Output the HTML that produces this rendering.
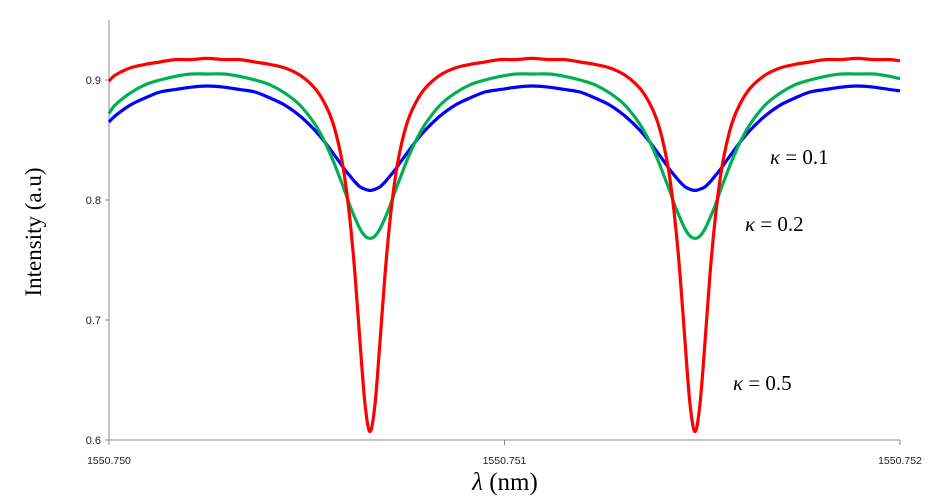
<!DOCTYPE html>
<html><head><meta charset="utf-8"><style>
html,body{margin:0;padding:0;background:#fff;}
svg{display:block;}
</style></head><body>
<svg id="chart" width="940" height="501" viewBox="0 0 940 501" xmlns="http://www.w3.org/2000/svg"></svg>
<script>
const wavelengths = [1550.75,1550.7500152,1550.7500531,1550.7500910,1550.7501290,1550.7501669,1550.7502073,1550.7502478,
1550.7502908,1550.7503312,1550.7503692,1550.7504071,1550.7504450,1550.7504829,1550.7505209,1550.7505461,1550.7505664,1550.7505841,1550.7505967,1550.7506094,1550.7506220,1550.7506346,1550.7506473,1550.7506599,
1550.7506726,1550.7506852,1550.7506979,1550.7507105,1550.7507231,1550.7507358,1550.7507535,1550.7507737,1550.7507990,1550.7508369,1550.7508748,1550.7509128,1550.7509507,1550.7509886,1550.7510291,1550.7510695,
1550.7511125,1550.7511530,1550.7511909,1550.7512288,1550.7512668,1550.7513047,1550.7513426,1550.7513679,1550.7513881,1550.7514058,1550.7514185,1550.7514311,1550.7514438,1550.7514564,1550.7514690,1550.7514817,
1550.7514943,1550.7515070,1550.7515196,1550.7515323,1550.7515449,1550.7515575,1550.7515752,1550.7515955,1550.7516207,1550.7516587,1550.7516966,1550.7517345,1550.7517724,1550.7518104,1550.7518508,1550.7518912,
1550.7519342,1550.7519747,1550.7520000];
const kappa05 = [0.899,0.904,0.910,0.913,0.915,0.917,0.917,0.918,
0.917,0.917,0.915,0.913,0.910,0.904,0.893,0.880,0.864,0.841,0.817,0.783,0.738,0.682,0.630,0.607,
0.630,0.682,0.738,0.783,0.817,0.841,0.864,0.880,0.893,0.904,0.910,0.913,0.915,0.917,0.917,0.918,
0.917,0.917,0.915,0.913,0.910,0.904,0.893,0.880,0.864,0.841,0.817,0.783,0.738,0.682,0.630,0.607,
0.630,0.682,0.738,0.783,0.817,0.841,0.864,0.880,0.893,0.904,0.910,0.913,0.915,0.917,0.917,0.918,
0.917,0.917,0.916];
const kappa02 = [0.872,0.879,0.889,0.896,0.900,0.903,0.905,0.905,
0.905,0.903,0.900,0.896,0.889,0.879,0.863,0.848,0.833,0.818,0.807,0.795,0.785,0.776,0.770,0.768,
0.770,0.776,0.785,0.795,0.807,0.818,0.833,0.848,0.863,0.879,0.889,0.896,0.900,0.903,0.905,0.905,
0.905,0.903,0.900,0.896,0.889,0.879,0.863,0.848,0.833,0.818,0.807,0.795,0.785,0.776,0.770,0.768,
0.770,0.776,0.785,0.795,0.807,0.818,0.833,0.848,0.863,0.879,0.889,0.896,0.900,0.903,0.905,0.905,
0.905,0.903,0.901];
const kappa01 = [0.865,0.870,0.879,0.885,0.890,0.892,0.894,0.895,
0.894,0.892,0.890,0.885,0.879,0.870,0.858,0.848,0.839,0.831,0.825,0.820,0.815,0.811,0.809,0.808,
0.809,0.811,0.815,0.820,0.825,0.831,0.839,0.848,0.858,0.870,0.879,0.885,0.890,0.892,0.894,0.895,
0.894,0.892,0.890,0.885,0.879,0.870,0.858,0.848,0.839,0.831,0.825,0.820,0.815,0.811,0.809,0.808,
0.809,0.811,0.815,0.820,0.825,0.831,0.839,0.848,0.858,0.870,0.879,0.885,0.890,0.892,0.894,0.895,
0.894,0.892,0.891];
const yTicks = [0.6,0.7,0.8,0.9];
const xTicks = [1550.750,1550.751,1550.752];
const xTickLabels = ["1550.750","1550.751","1550.752"];

const NS="http://www.w3.org/2000/svg";
const svg=document.getElementById('chart');
const X0=109,X1=900,Y0=440;
function xs(v){return X0+(v-1550.750)/0.002*(X1-X0);}
function ys(v){return Y0-(v-0.6)*1200;}
function mk(tag,attrs){const e=document.createElementNS(NS,tag);for(const k in attrs)e.setAttribute(k,attrs[k]);svg.appendChild(e);return e;}

let a=mk('line',{x1:X0,y1:20,x2:X0,y2:Y0,stroke:'#888','stroke-width':1});


a=mk('line',{x1:X0,y1:Y0,x2:X1,y2:Y0,stroke:'#888','stroke-width':1});



yTicks.forEach(t=>{
  const y=ys(t);
  let l=mk('line',{x1:X0-4,y1:y,x2:X0,y2:y,stroke:'#888'});
  
  
  let tx=mk('text',{x:X0-8,y:y+4,'text-anchor':'end','font-family':'Liberation Sans, sans-serif','font-size':'11',fill:'#222'});
  tx.textContent=t.toFixed(1);
  
  
});
xTicks.forEach((t,i)=>{
  const x=xs(t);
  let l=mk('line',{x1:x,y1:Y0,x2:x,y2:Y0+5,stroke:'#888'});
  
  
  let tx=mk('text',{x:x,y:Y0+24,'text-anchor':'middle','font-family':'Liberation Sans, sans-serif','font-size':'10.5',fill:'#222'});
  tx.textContent=xTickLabels[i];
  
  
});

function smooth(pts){
  let d='M'+pts[0][0]+','+pts[0][1];
  for(let i=0;i<pts.length-1;i++){
    const p0=pts[i-1]||pts[i],p1=pts[i],p2=pts[i+1],p3=pts[i+2]||p2;
    const c1=[p1[0]+(p2[0]-p0[0])/6,p1[1]+(p2[1]-p0[1])/6];
    const c2=[p2[0]-(p3[0]-p1[0])/6,p2[1]-(p3[1]-p1[1])/6];
    d+=' C'+c1[0].toFixed(2)+','+c1[1].toFixed(2)+' '+c2[0].toFixed(2)+','+c2[1].toFixed(2)+' '+p2[0].toFixed(2)+','+p2[1].toFixed(2);
  }
  return d;
}
function series(vals,color,name){
  const pts=wavelengths.map((w,i)=>[xs(w),ys(vals[i])]);
  const p=mk('path',{d:smooth(pts),fill:'none',stroke:color,'stroke-width':3.2,'stroke-linejoin':'round'});
  
  
}
series(kappa01,'#0000ff','series-kappa-0.1');
series(kappa02,'#00b050','series-kappa-0.2');
series(kappa05,'#ff0000','series-kappa-0.5');

function label(x,y,val,name){
  const t=mk('text',{x:x,y:y,'font-family':'Liberation Serif, serif','font-size':'21',fill:'#000'});
  t.innerHTML='<tspan font-style="italic">κ</tspan> = '+val;
  
  
}
label(770,164,'0.1','label-kappa-0.1');
label(745,231,'0.2','label-kappa-0.2');
label(733,390,'0.5','label-kappa-0.5');

let yt=mk('text',{x:0,y:0,transform:'translate(41,232) rotate(-90)','text-anchor':'middle','font-family':'Liberation Serif, serif','font-size':'23',fill:'#000'});
yt.textContent='Intensity (a.u)';


let xt=mk('text',{x:505,y:490,'text-anchor':'middle','font-family':'Liberation Serif, serif','font-size':'25',fill:'#000'});
xt.innerHTML='<tspan font-style="italic">λ</tspan> (nm)';


</script>
</body></html>
